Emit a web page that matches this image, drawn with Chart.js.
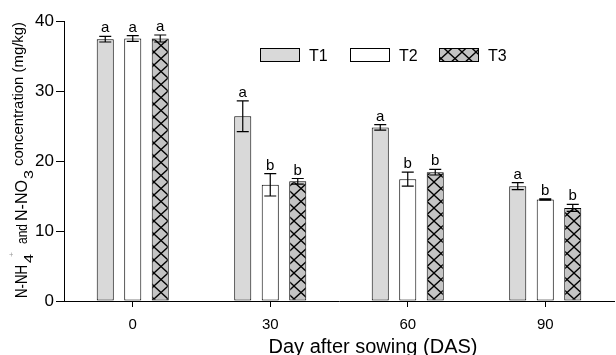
<!DOCTYPE html>
<html><head><meta charset="utf-8">
<script src="https://cdn.jsdelivr.net/npm/chart.js@4/dist/chart.umd.min.js"></script>
<style>html,body{margin:0;padding:0;background:#fff}#wrap{width:616px;height:355px}</style>
</head><body><div id="wrap"><canvas id="c" width="616" height="355"></canvas></div>
<script>
const categories = ["0", "30", "60", "90"];
const seriesNames = ["T1", "T2", "T3"];
const t1Values = [37.4, 26.4, 24.8, 16.4];
const t2Values = [37.5, 16.6, 17.4, 14.5];
const t3Values = [37.5, 17.1, 18.4, 13.3];
const t1Errors = [0.4, 2.2, 0.4, 0.5];
const t2Errors = [0.4, 1.6, 1.0, 0.1];
const t3Errors = [0.5, 0.4, 0.4, 0.5];
const t1Letters = ["a", "a", "a", "a"];
const t2Letters = ["a", "b", "b", "b"];
const t3Letters = ["a", "b", "b", "b"];
const yTicks = [0, 10, 20, 30, 40];

const FONT = "'Liberation Sans', Arial, sans-serif";

function makePattern() {
  const w = 14, h = 13;
  const c = document.createElement('canvas');
  c.width = w; c.height = h;
  const g = c.getContext('2d');
  g.fillStyle = '#c4c4c4';
  g.fillRect(0, 0, w, h);
  g.strokeStyle = '#000';
  g.lineWidth = 1.3;
  g.beginPath();
  g.moveTo(0, 0); g.lineTo(w, h);
  g.moveTo(w, 0); g.lineTo(0, h);
  g.stroke();
  return document.getElementById('c').getContext('2d').createPattern(c, 'repeat');
}
const hatch = makePattern();

const errs = [t1Errors, t2Errors, t3Errors];
const letters = [t1Letters, t2Letters, t3Letters];

const overlay = {
  id: 'overlay',
  afterDatasetsDraw(chart) {
    const ctx = chart.ctx;
    const y = chart.scales.y;
    ctx.save();
    chart.data.datasets.forEach((ds, i) => {
      const meta = chart.getDatasetMeta(i);
      meta.data.forEach((bar, j) => {
        const v = ds.data[j], e = errs[i][j];
        const x = bar.x;
        const yt = y.getPixelForValue(v + e), yb = y.getPixelForValue(v - e);
        ctx.strokeStyle = '#000'; ctx.lineWidth = 1.2;
        ctx.beginPath();
        ctx.moveTo(x, yt); ctx.lineTo(x, yb);
        ctx.moveTo(x - 6, yt); ctx.lineTo(x + 6, yt);
        ctx.moveTo(x - 6, yb); ctx.lineTo(x + 6, yb);
        ctx.stroke();
        ctx.fillStyle = '#000';
        ctx.font = '15px ' + FONT;
        ctx.textAlign = 'center'; ctx.textBaseline = 'alphabetic';
        ctx.fillText(letters[i][j], x, yt - 4);
      });
    });
    // legend
    const lx = [260, 350, 439];
    chart.data.datasets.forEach((ds, i) => {
      ctx.fillStyle = ds.backgroundColor;
      ctx.fillRect(lx[i], 48.5, 40, 13);
      ctx.strokeStyle = '#000'; ctx.lineWidth = 1;
      ctx.strokeRect(lx[i] + 0.5, 48.5, 39, 13);
      ctx.fillStyle = '#000';
      ctx.font = '16px ' + FONT;
      ctx.textAlign = 'left'; ctx.textBaseline = 'alphabetic';
      ctx.fillText(ds.label, lx[i] + 49, 61);
    });
    // x title
    ctx.font = '20px ' + FONT;
    ctx.textAlign = 'center';
    ctx.fillText('Day after sowing (DAS)', 373, 353);
    // y title (rotated, with sub/superscripts)
    ctx.translate(0, 355);
    ctx.rotate(-Math.PI / 2);
    ctx.textAlign = 'left';
    const part = (t, size, u0, u1, v, color) => {
      ctx.save();
      ctx.font = size + 'px ' + FONT;
      ctx.fillStyle = color || '#000';
      const w = ctx.measureText(t).width;
      ctx.translate(u0, v);
      ctx.scale((u1 - u0) / w, 1);
      ctx.fillText(t, 0, 0);
      ctx.restore();
    };
    part('N-NH', 16, 57, 90, 27);
    part('4', 13, 92, 101, 33);
    part('+', 7, 98, 103, 14, '#999');
    part('and', 14, 111, 131, 27);
    part('N-NO', 16, 134, 175, 27);
    part('3', 13, 176, 185, 33);
    part('concentration (mg/kg)', 14, 189, 333, 23);
    ctx.restore();
  }
};

new Chart(document.getElementById('c'), {
  type: 'bar',
  data: {
    labels: categories,
    datasets: [
      { label: seriesNames[0], data: t1Values, backgroundColor: '#d9d9d9' },
      { label: seriesNames[1], data: t2Values, backgroundColor: '#ffffff' },
      { label: seriesNames[2], data: t3Values, backgroundColor: hatch }
    ].map(d => Object.assign(d, { borderColor: '#000', borderWidth: 1, borderSkipped: false, categoryPercentage: 0.6, barPercentage: 0.62 }))
  },
  options: {
    responsive: false,
    animation: false,
    devicePixelRatio: 1,
    layout: { padding: { left: 0, right: 2, top: 21, bottom: 0 } },
    plugins: { legend: { display: false }, tooltip: { enabled: false } },
    scales: {
      x: {
        offset: true,
        grid: { display: true, drawOnChartArea: false, offset: false, tickLength: 6, color: '#000' },
        border: { display: true, color: '#000', width: 1 },
        ticks: { color: '#000', font: { family: FONT, size: 15 }, padding: 9, maxRotation: 0 },
        afterFit(s) { s.height = 54; }
      },
      y: {
        min: 0, max: 40,
        afterBuildTicks(s) { s.ticks = yTicks.map(v => ({ value: v })); },
        grid: { display: true, drawOnChartArea: false, tickLength: 8, color: '#000' },
        border: { display: true, color: '#000', width: 1 },
        ticks: { color: '#000', font: { family: FONT, size: 17 }, padding: 2 },
        afterFit(s) { s.width = 64; }
      }
    }
  },
  plugins: [overlay]
});
</script>
</body></html>
